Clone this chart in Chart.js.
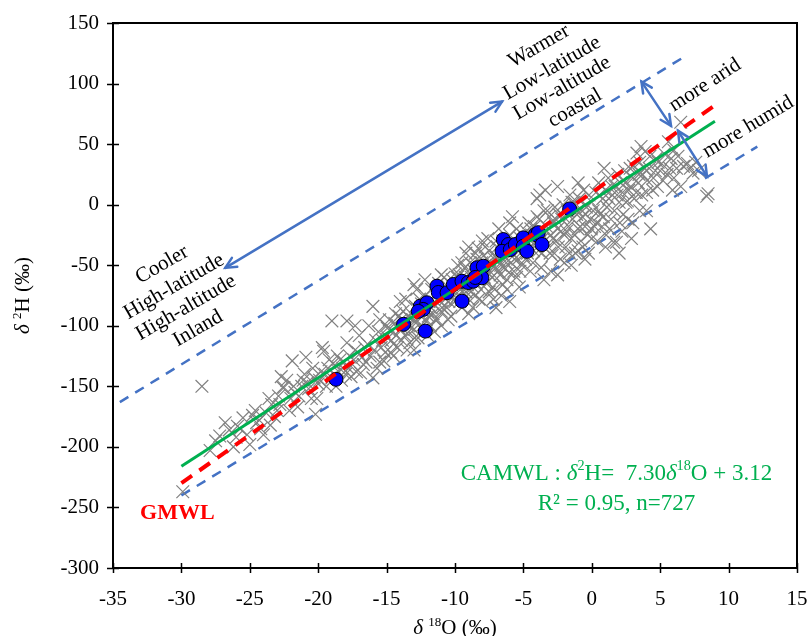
<!DOCTYPE html>
<html>
<head>
<meta charset="utf-8">
<script src="https://cdn.jsdelivr.net/npm/chart.js@4.4.0/dist/chart.umd.min.js"></script>
<style>
  html, body { margin: 0; padding: 0; background: #fff; }
  #wrap { width: 810px; height: 636px; }
</style>
</head>
<body>
<div id="wrap"><canvas id="isoChart" width="810" height="636"></canvas></div>
<script>
// precipitation samples (gray crosses), d18O / d2H
const precipPoints = [
  [-29.9,-237],[-28.5,-150],[-27.9,-203],[-27.2,-191],[-26.5,-186],[-25.9,-183],[-25.0,-198],[-24.8,-174],
  [-24.5,-180],[-24.2,-185],[-25.5,-176],[-26.0,-192],[-23.4,-165],[-23.8,-172],[-24.0,-190],
  [-22.6,-151],[-22.5,-151],[-21.9,-129],[-20.9,-126],[-21.5,-167],[-20.2,-173],[-22.0,-160],[-21.7,-155],
  [-21.2,-150],[-20.8,-147],[-20.5,-160],[-20.3,-143],[-20.0,-148],[-19.8,-138],[-19.6,-121],[-19.5,-140],
  [-19.3,-135],[-19.0,-143],[-18.9,-131],[-18.7,-150],[-18.5,-138],[-18.4,-128],[-18.2,-135],[-18.0,-140],
  [-17.9,-114],[-17.7,-125],[-17.5,-132],[-17.3,-120],[-17.2,-138],[-16.9,-139],[-16.8,-126],[-16.6,-118],
  [-16.5,-130],[-16.0,-143],[-15.5,-130],[-19.0,-96],[-17.9,-96],[-17.3,-100],[-19.7,-118],[-22.9,-158],
  [-21.0,-140],[-23.0,-170],
  [-26.8,-180],[-25.2,-190],[-24.6,-170],[-23.6,-160],[-23.2,-175],[-22.8,-165],[-22.3,-145],[-22.1,-170],
  [-21.8,-150],[-21.4,-158],[-21.1,-145],[-20.7,-152],[-20.4,-135],[-20.1,-160],[-27.5,-195],[-26.2,-200],
  [-25.7,-185],[-24.3,-178],[-23.5,-182],[-22.7,-142],
  [-19.9,-145],[-19.4,-150],[-19.2,-128],[-18.8,-140],[-18.6,-125],[-18.3,-145],[-18.1,-130],[-17.8,-135],
  [-17.6,-142],[-17.4,-128],[-17.1,-122],[-16.7,-132],[-16.4,-115],[-16.2,-125],[-15.9,-120],[-15.7,-135],
  [-15.3,-112],[-15.1,-122],[-16.3,-100],[-17.0,-108],
  [-16.0,-84],[-15.8,-112],[-15.6,-105],[-15.4,-118],[-15.2,-129],[-15.0,-100],[-14.9,-110],[-14.8,-95],
  [-14.6,-104],[-14.5,-115],[-14.4,-98],[-14.3,-108],[-14.1,-92],[-14.0,-103],[-13.9,-112],[-13.8,-88],
  [-13.7,-96],[-13.5,-106],[-13.4,-100],[-13.3,-114],[-13.2,-90],[-13.1,-95],[-13.0,-66],[-13.0,-103],
  [-12.9,-84],[-12.8,-97],[-12.7,-110],[-12.6,-78],[-12.5,-92],[-12.4,-100],[-12.3,-85],[-12.2,-75],
  [-12.1,-95],[-12.0,-88],[-11.9,-80],[-11.8,-100],[-11.7,-70],[-11.6,-90],[-11.5,-83],[-11.4,-75],
  [-11.3,-95],[-11.2,-65],[-11.1,-80],[-11.0,-88],[-10.9,-72],[-10.8,-60],[-10.7,-78],[-10.6,-85],
  [-10.5,-68],[-10.4,-74],[-10.3,-92],[-10.2,-62],[-10.1,-70],[-10.0,-80],[-10.0,-57],[-14.0,-80],
  [-13.5,-120],[-12.0,-108],[-11.0,-100],[-15.5,-95],[-14.7,-122],[-13.6,-78],[-12.8,-70],
  [-14.95,-102],[-14.65,-112],[-14.35,-90],[-14.2,-118],[-13.95,-95],[-13.65,-108],[-13.45,-92],
  [-13.25,-100],[-12.95,-110],[-12.75,-86],[-12.45,-82],[-12.25,-105],[-11.95,-92],[-11.75,-85],
  [-11.45,-95],[-11.25,-72],[-10.95,-85],[-10.75,-70],[-10.45,-80],[-10.25,-66],[-14.5,-125],
  [-13.0,-120],[-11.5,-105],[-10.5,-95],[-12.2,-62],[-11.0,-58],
  [-9.9,-66],[-9.8,-75],[-9.7,-58],[-9.6,-70],[-9.5,-85],[-9.4,-62],[-9.3,-52],[-9.2,-72],[-9.1,-66],
  [-9.0,-78],[-8.9,-48],[-8.8,-60],[-8.7,-68],[-8.6,-55],[-8.5,-75],[-8.4,-45],[-8.3,-62],[-8.2,-52],
  [-8.1,-70],[-8.0,-58],[-7.9,-42],[-7.8,-50],[-7.7,-65],[-7.6,-56],[-7.5,-38],[-7.4,-48],[-7.3,-60],
  [-7.2,-44],[-7.1,-70],[-7.0,-52],[-6.9,-35],[-6.8,-46],[-6.7,-58],[-6.6,-40],[-6.5,-30],[-6.4,-52],
  [-6.3,-44],[-6.2,-62],[-6.1,-36],[-6.0,-25],[-5.9,-48],[-5.8,-40],[-5.7,-55],[-5.6,-32],[-5.5,-20],
  [-5.4,-45],[-5.3,-38],[-5.2,-28],[-5.1,-50],[-5.0,-42],[-9.8,-50],[-9.0,-90],[-8.5,-40],[-8.0,-80],
  [-7.5,-72],[-7.0,-30],[-6.5,-66],[-6.0,-15],[-5.5,-60],[-9.2,-40],[-8.7,-85],[-7.8,-35],[-7.2,-78],
  [-6.8,-20],[-6.2,-70],[-5.8,-10],[-9.5,-48],[-8.3,-36],[-7.6,-28],[-6.6,-75],
  [-9.85,-60],[-9.65,-80],[-9.45,-72],[-9.25,-60],[-9.05,-55],[-8.85,-72],[-8.65,-50],[-8.45,-65],
  [-8.25,-78],[-8.05,-48],[-7.85,-60],[-7.65,-45],[-7.45,-55],[-7.25,-68],[-7.05,-42],[-6.85,-55],
  [-6.65,-50],[-6.45,-38],[-6.25,-48],[-6.05,-56],[-5.85,-30],[-5.65,-45],[-5.45,-35],[-5.25,-55],
  [-5.05,-25],[-9.0,-35],[-8.0,-30],[-7.0,-85],[-6.0,-80],[-5.3,-68],
  [-4.9,-30],[-4.8,-22],[-4.7,-40],[-4.6,-15],[-4.5,-35],[-4.4,-25],[-4.3,-48],[-4.2,-18],[-4.1,-30],
  [-4.0,-10],[-3.9,-38],[-3.8,-22],[-3.7,-52],[-3.6,-28],[-3.5,-5],[-3.4,12],[-3.3,-18],[-3.2,-35],
  [-3.1,-10],[-3.0,-25],[-2.9,-42],[-2.8,-15],[-2.7,-2],[-2.6,-30],[-2.5,-20],[-2.4,-8],[-2.3,-45],
  [-2.2,-12],[-2.1,0],[-2.0,-25],[-1.9,-35],[-1.8,-5],[-1.7,-18],[-1.6,8],[-1.5,-28],[-1.4,-12],
  [-1.3,2],[-1.2,-40],[-1.1,-8],[-1.0,-20],[-0.9,5],[-0.8,-30],[-0.7,-10],[-0.6,12],[-0.5,-18],
  [-0.4,-2],[-0.3,-25],[-0.2,8],[-0.1,-12],[0.0,2],[-4.5,-55],[-3.0,-55],[-2.0,-48],[-1.0,-38],
  [0.0,-28],[-4.0,5],[-2.5,15],[-1.0,18],[0.2,-18],[0.5,-5],
  [-4.85,-45],[-4.65,-28],[-4.45,-20],[-4.25,-38],[-4.05,-25],[-3.85,-12],[-3.65,-40],[-3.45,-30],
  [-3.25,-5],[-3.05,-40],[-2.85,-28],[-2.65,-12],[-2.45,-35],[-2.25,-22],[-2.05,-10],[-1.85,-22],
  [-1.65,-40],[-1.45,2],[-1.25,-25],[-1.05,-5],[-0.85,-18],[-0.65,-35],[-0.45,-8],[-0.25,-40],
  [-0.05,-20],[-3.5,-62],[-2.5,-58],[-1.5,-50],[-0.5,-45],[-3.8,8],
  [0.3,10],[0.5,18],[0.6,-8],[0.75,-18],[0.8,5],[1.0,12],[1.1,-2],[1.2,22],[1.4,-12],[1.5,8],
  [1.6,-31],[1.8,-31],[1.7,15],[1.9,25],[2.0,2],[2.1,18],[2.3,-8],[2.5,2],[2.6,3],[2.4,28],[2.7,12],
  [2.8,30],[3.0,22],[3.1,5],[3.3,42.6],[3.4,18],[3.5,35],[3.7,25],[3.9,43.9],[4.0,10],[4.2,30],
  [4.5,22],[4.7,38],[5.0,28],[5.1,34],[3.0,-15],[4.0,-5],[2.2,-22],[1.3,-20],[0.9,30],[3.6,48],
  [4.8,15],[5.3,42],[0.4,-30],[2.9,-28],
  [0.1,-5],[0.35,-15],[0.55,8],[0.85,-10],[1.05,-25],[1.25,5],[1.45,15],[1.65,-5],[1.85,8],
  [2.05,-15],[2.25,10],[2.45,18],[2.65,-12],[2.85,15],[3.05,32],[3.25,10],[3.45,25],[3.65,8],
  [3.85,30],[4.05,20],[4.25,40],[4.45,12],[4.65,28],[4.85,35],[1.0,-35],[2.0,-40],[3.5,-5],[4.3,-20],
  [5.5,25],[5.8,38],[6.2,30],[6.7,31.6],[6.5,15],[7.0,34],[7.4,26],[8.4,7],[8.5,9],[6.5,68],
  [6.0,45],[5.6,52],[7.8,28],[5.2,20],[5.7,30],[6.0,22],[6.3,40],[7.2,30],[7.6,35],[5.9,12]
];

// sampled sites (blue circles)
const sitePoints = [
  [-18.70,-144.2],[-13.76,-98.8],[-12.17,-104.4],[-12.54,-83.8],[-12.05,-81.0],[-12.32,-86.5],
  [-12.68,-88.1],[-11.32,-67.3],[-11.22,-72.5],[-10.58,-72.7],[-9.49,-79.7],[-10.12,-65.9],
  [-9.49,-63.2],[-9.03,-64.3],[-8.66,-63.2],[-8.39,-52.1],[-7.93,-50.8],[-8.03,-60.4],[-8.52,-60.1],
  [-6.47,-28.8],[-6.10,-32.9],[-6.56,-38.5],[-5.96,-37.1],[-5.59,-32.9],[-5.01,-27.4],[-5.01,-34.3],
  [-4.74,-38.5],[-4.13,-24.7],[-3.91,-23.1],[-3.64,-32.9],[-1.62,-3.5]
];

// reference lines, endpoints in axis units
const camwlX = [-30, 9];
const camwlY = [-215.9, 68.8];
const gmwlX = [-30, 9.3];
const gmwlY = [-230, 84.4];
const upperX = [-34.5, 6.6];
const upperY = [-163, 121];
const lowerX = [-30, 12.1];
const lowerY = [-240, 47.9];

// double-headed arrows [x1, y1, x2, y2]
const arrows = [
  [-26.79, -52.2, -6.56, 85.1],
  [3.63, 101.6, 5.79, 65.1],
  [6.30, 61.0, 8.42, 23.3]
];

const xTicks = [-35, -30, -25, -20, -15, -10, -5, 0, 5, 10, 15];
const yTicks = [-300, -250, -200, -150, -100, -50, 0, 50, 100, 150];

const SERIF = '"Liberation Serif", "Times New Roman", serif';
const BLUE = '#4472c4';
const GREEN = '#00b050';

function toXY(arr) {
  return arr.map(p => ({ x: p[0], y: p[1] }));
}
function linePts(xs, ys) {
  return xs.map((x, i) => ({ x: x, y: ys[i] }));
}

// text with italic delta and superscripts
function drawRich(ctx, parts, cx, cy, angle, size, color) {
  ctx.save();
  ctx.translate(cx, cy);
  ctx.rotate(angle * Math.PI / 180);
  ctx.fillStyle = color;
  ctx.textBaseline = 'alphabetic';
  let total = 0;
  parts.forEach(p => {
    const s = p.sup ? size * 0.62 : size;
    p.font = (p.it ? 'italic ' : '') + (p.b ? 'bold ' : '') + s + 'px ' + SERIF;
    ctx.font = p.font;
    p.w = ctx.measureText(p.t).width;
    total += p.w;
  });
  let x = -total / 2;
  const base = size * 0.33;
  parts.forEach(p => {
    ctx.font = p.font;
    ctx.fillText(p.t, x, p.sup ? base - size * 0.4 : base);
    x += p.w;
  });
  ctx.restore();
}

function arrowHead(ctx, tx, ty, fx, fy) {
  const a = Math.atan2(ty - fy, tx - fx);
  const len = 12, spread = 0.45;
  ctx.beginPath();
  ctx.moveTo(tx - len * Math.cos(a - spread), ty - len * Math.sin(a - spread));
  ctx.lineTo(tx, ty);
  ctx.lineTo(tx - len * Math.cos(a + spread), ty - len * Math.sin(a + spread));
  ctx.stroke();
}

// notes placed in axis units
const notes = [
  { t: 'Warmer', x: -3.91, y: 131.8, a: -30 },
  { t: 'Low-latitude', x: -2.96, y: 113.7, a: -30 },
  { t: 'Low-altitude', x: -2.23, y: 97.2, a: -30 },
  { t: 'coastal', x: -1.28, y: 80.7, a: -30 },
  { t: 'Cooler', x: -31.47, y: -48.6, a: -30 },
  { t: 'High-latitude', x: -30.59, y: -66.7, a: -30 },
  { t: 'High-altitude', x: -29.72, y: -84.0, a: -30 },
  { t: 'Inland', x: -28.84, y: -101.3, a: -30 },
  { t: 'more arid', x: 8.22, y: 99.7, a: -33 },
  { t: 'more humid', x: 11.37, y: 65.1, a: -31 }
];

const decor = {
  id: 'decor',
  afterDraw(chart) {
    const ctx = chart.ctx;
    const xs = chart.scales.x, ys = chart.scales.y;
    const area = chart.chartArea;

    // frame and crossing tick marks
    ctx.save();
    ctx.strokeStyle = '#000';
    ctx.lineWidth = 2;
    ctx.strokeRect(area.left, area.top, area.right - area.left, area.bottom - area.top);
    ctx.lineWidth = 1.5;
    ctx.beginPath();
    xTicks.forEach(v => {
      const px = Math.round(xs.getPixelForValue(v)) + 0.5;
      ctx.moveTo(px, area.bottom - 5);
      ctx.lineTo(px, area.bottom + 5);
    });
    yTicks.forEach(v => {
      const py = Math.round(ys.getPixelForValue(v)) + 0.5;
      ctx.moveTo(area.left - 6, py);
      ctx.lineTo(area.left + 6, py);
    });
    ctx.stroke();

    // arrows
    ctx.strokeStyle = BLUE;
    ctx.lineWidth = 2.5;
    ctx.lineCap = 'round';
    arrows.forEach(r => {
      const x1 = xs.getPixelForValue(r[0]), y1 = ys.getPixelForValue(r[1]);
      const x2 = xs.getPixelForValue(r[2]), y2 = ys.getPixelForValue(r[3]);
      ctx.beginPath();
      ctx.moveTo(x1, y1);
      ctx.lineTo(x2, y2);
      ctx.stroke();
      arrowHead(ctx, x1, y1, x2, y2);
      arrowHead(ctx, x2, y2, x1, y1);
    });
    ctx.restore();

    // rotated notes
    notes.forEach(n => {
      drawRich(ctx, [{ t: n.t }], xs.getPixelForValue(n.x), ys.getPixelForValue(n.y), n.a, 21, '#000');
    });

    // GMWL label
    drawRich(ctx, [{ t: 'GMWL', b: true }], xs.getPixelForValue(-30.3), ys.getPixelForValue(-253.7), 0, 22, '#ff0000');

    // regression text
    drawRich(ctx, [
      { t: 'CAMWL : ' }, { t: 'δ', it: true }, { t: '2', sup: true }, { t: 'H=  7.30' },
      { t: 'δ', it: true }, { t: '18', sup: true }, { t: 'O + 3.12' }
    ], xs.getPixelForValue(1.8), ys.getPixelForValue(-220.8), 0, 23, GREEN);
    drawRich(ctx, [{ t: 'R² = 0.95, n=727' }], xs.getPixelForValue(1.8), ys.getPixelForValue(-245.5), 0, 23, GREEN);

    // axis titles
    drawRich(ctx, [{ t: 'δ', it: true }, { t: ' ' }, { t: '18', sup: true }, { t: 'O (‰)' }],
      (area.left + area.right) / 2, 627, 0, 21, '#000');
    drawRich(ctx, [{ t: 'δ', it: true }, { t: ' ' }, { t: '2', sup: true }, { t: 'H (‰)' }],
      22, (area.top + area.bottom) / 2, -90, 21, '#000');
  }
};

const tickFont = { family: SERIF, size: 21 };

new Chart(document.getElementById('isoChart'), {
  type: 'scatter',
  data: {
    datasets: [
      {
        label: 'upper',
        data: linePts(upperX, upperY),
        showLine: true, pointRadius: 0, borderColor: BLUE, borderWidth: 2.5,
        borderDash: [10, 8], order: 6
      },
      {
        label: 'lower',
        data: linePts(lowerX, lowerY),
        showLine: true, pointRadius: 0, borderColor: BLUE, borderWidth: 2.5,
        borderDash: [10, 8], order: 6
      },
      {
        label: 'precipitation',
        data: toXY(precipPoints),
        pointStyle: 'crossRot', pointRadius: 9, borderColor: '#808080', borderWidth: 1.2,
        order: 5
      },
      {
        label: 'sites',
        data: toXY(sitePoints),
        pointStyle: 'circle', pointRadius: 7, backgroundColor: '#0000ff', borderColor: '#000',
        borderWidth: 1, order: 4
      },
      {
        label: 'CAMWL',
        data: linePts(camwlX, camwlY),
        showLine: true, pointRadius: 0, borderColor: GREEN, borderWidth: 3, order: 3
      },
      {
        label: 'GMWL',
        data: linePts(gmwlX, gmwlY),
        showLine: true, pointRadius: 0, borderColor: '#ff0000', borderWidth: 4,
        borderDash: [13, 9], order: 2
      }
    ]
  },
  options: {
    responsive: false,
    devicePixelRatio: 1,
    animation: false,
    layout: { padding: { left: 0, right: 13, top: 23, bottom: 0 } },
    plugins: { legend: { display: false }, tooltip: { enabled: false } },
    scales: {
      x: {
        type: 'linear', min: -35, max: 15,
        ticks: { stepSize: 5, font: tickFont, color: '#000', padding: 19, maxRotation: 0, autoSkip: false },
        grid: { display: false, drawTicks: false },
        border: { display: false },
        afterFit: s => { s.height = 68; s.paddingLeft = 0; s.paddingRight = 0; }
      },
      y: {
        type: 'linear', min: -300, max: 150,
        ticks: { stepSize: 50, font: tickFont, color: '#000', padding: 14, autoSkip: false },
        grid: { display: false, drawTicks: false },
        border: { display: false },
        afterFit: s => { s.width = 113; s.paddingTop = 0; s.paddingBottom = 0; }
      }
    }
  },
  plugins: [decor]
});
</script>
</body>
</html>
